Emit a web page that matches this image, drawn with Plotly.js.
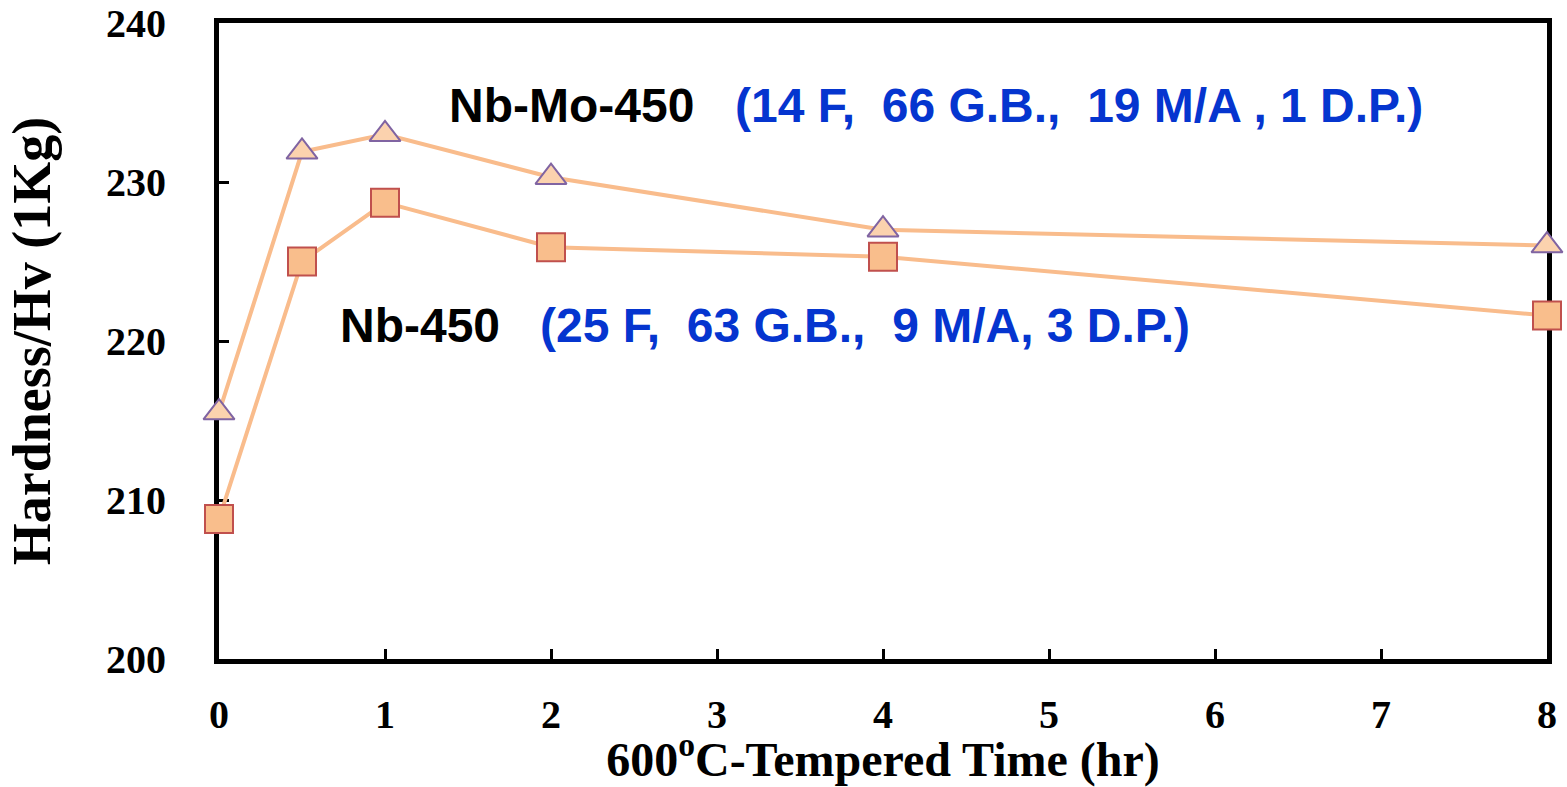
<!DOCTYPE html>
<html>
<head>
<meta charset="utf-8">
<script src="https://cdn.plot.ly/plotly-3.0.1.min.js"></script>
<style>html,body{margin:0;padding:0;background:#fff;}#chart{width:1567px;height:787px;}</style>
</head>
<body>
<div id="chart"></div>
<script>
const timeHr = [0, 0.5, 1, 2, 4, 8];
const nbMo450 = [215.5, 231.9, 233.0, 230.3, 227.0, 226.0];
const nb450 = [208.8, 225.0, 228.7, 225.9, 225.3, 221.6];
const xTicks = [0, 1, 2, 3, 4, 5, 6, 7, 8];
const yTicks = [200, 210, 220, 230, 240];

const lineColor = '#F9BC8C';
const traces = [
  {
    x: timeHr, y: nbMo450, mode: 'lines+markers', name: 'Nb-Mo-450',
    line: {color: lineColor, width: 4},
    marker: {symbol: 'triangle-up', size: 27, color: '#FBD2AE', line: {color: '#8064A2', width: 2}},
    cliponaxis: false
  },
  {
    x: timeHr, y: nb450, mode: 'lines+markers', name: 'Nb-450',
    line: {color: lineColor, width: 4},
    marker: {symbol: 'square', size: 28, color: '#F9BE8C', line: {color: '#C0504D', width: 2}},
    cliponaxis: false
  }
];

const sp = '\u00a0';
const layout = {
  width: 1567, height: 787,
  margin: {l: 219, r: 20, t: 23, b: 128},
  paper_bgcolor: '#fff', plot_bgcolor: '#fff',
  showlegend: false,
  font: {family: 'Liberation Serif, Times New Roman, serif', color: '#000'},
  xaxis: {
    range: [0, 8], tickvals: xTicks, ticktext: xTicks.map(String),
    showgrid: false, zeroline: false,
    showline: true, linecolor: '#000', linewidth: 5, mirror: true,
    ticks: 'inside', ticklen: 10, tickwidth: 3, tickcolor: '#000',
    ticklabelstandoff: 16,
    tickfont: {family: 'Liberation Serif, serif', size: 40, color: '#000', weight: 'bold'},
    title: {text: '600<sup>o</sup>C-Tempered Time (hr)', standoff: 8,
      font: {family: 'Liberation Serif, serif', size: 48, color: '#000', weight: 'bold'}},
    layer: 'below traces'
  },
  yaxis: {
    range: [200, 240], tickvals: yTicks, ticktext: yTicks.map(String),
    showgrid: false, zeroline: false,
    showline: true, linecolor: '#000', linewidth: 5, mirror: true,
    ticks: 'inside', ticklen: 10, tickwidth: 3, tickcolor: '#000',
    ticklabelstandoff: 40,
    tickfont: {family: 'Liberation Serif, serif', size: 40, color: '#000', weight: 'bold'},
    title: {text: 'Hardness/Hv (1Kg)', standoff: 40,
      font: {family: 'Liberation Serif, serif', size: 54, color: '#000', weight: 'bold'}},
    layer: 'below traces'
  },
  annotations: [
    {xref: 'paper', yref: 'paper', x: 0.1717, y: 0.871, xanchor: 'left', yanchor: 'middle', showarrow: false,
      text: 'Nb-Mo-450', font: {family: 'Liberation Sans, Arial, sans-serif', size: 48, color: '#000', weight: 'bold'}},
    {xref: 'paper', yref: 'paper', x: 0.387, y: 0.871, xanchor: 'left', yanchor: 'middle', showarrow: false,
      text: '(14 F,' + sp + sp + '66 G.B.,' + sp + sp + '19 M/A , 1 D.P.)',
      font: {family: 'Liberation Sans, Arial, sans-serif', size: 48, color: '#0535CF', weight: 'bold'}},
    {xref: 'paper', yref: 'paper', x: 0.0896, y: 0.525, xanchor: 'left', yanchor: 'middle', showarrow: false,
      text: 'Nb-450', font: {family: 'Liberation Sans, Arial, sans-serif', size: 48, color: '#000', weight: 'bold'}},
    {xref: 'paper', yref: 'paper', x: 0.240, y: 0.525, xanchor: 'left', yanchor: 'middle', showarrow: false,
      text: '(25 F,' + sp + sp + '63 G.B.,' + sp + sp + '9 M/A, 3 D.P.)',
      font: {family: 'Liberation Sans, Arial, sans-serif', size: 48, color: '#0535CF', weight: 'bold'}}
  ]
};

Plotly.newPlot('chart', traces, layout, {displayModeBar: false, staticPlot: true});
</script>
</body>
</html>
